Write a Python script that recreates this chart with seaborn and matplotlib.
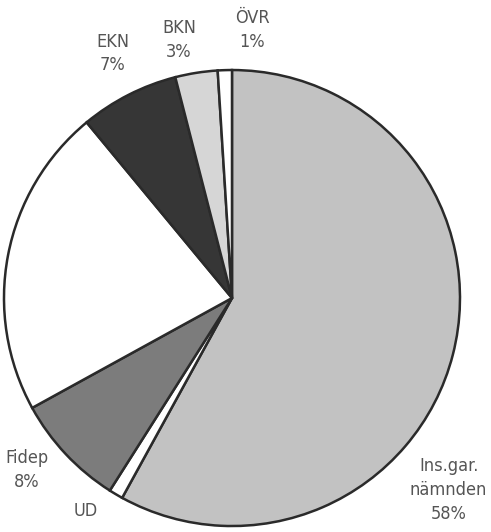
import matplotlib
matplotlib.use('Agg')
import matplotlib.pyplot as plt
import seaborn as sns

# Slices, clockwise from the top
labels = ['Ins.gar.\nnämnden\n58%', 'UD', 'Fidep\n8%', '', 'EKN\n7%', 'BKN\n3%', 'ÖVR\n1%']
shares = [58, 1, 8, 22, 7, 3, 1]
colors = ['#c2c2c2', '#ffffff', '#7c7c7c', '#ffffff', '#363636', '#d6d6d6', '#ffffff']

# where each label sits (pie radius = 1)
label_pos = [(0.95, -0.842), (-0.64, -0.934), (-0.899, -0.754), (0, 0),
             (-0.522, 1.072), (-0.232, 1.132), (0.088, 1.175)]

sns.set_style('white')
plt.rcParams['font.family'] = ['DejaVu Sans']

fig = plt.figure(figsize=(4.91, 5.32), dpi=100)
ax = fig.add_axes([0, 0, 1, 1])

ax.pie(shares, colors=colors, startangle=90, counterclock=False,
       wedgeprops=dict(edgecolor='#2a2a2a', linewidth=1.8))

for text, (x, y) in zip(labels, label_pos):
    if text:
        ax.text(x, y, text, ha='center', va='center', fontsize=13,
                fontstretch='condensed', color='#555555', linespacing=1.4)

ax.set_xlim(-1.0175, 1.136)
ax.set_ylim(-1.026, 1.307)
ax.set_aspect('equal')
ax.axis('off')

fig.savefig('out.png', dpi=100)
